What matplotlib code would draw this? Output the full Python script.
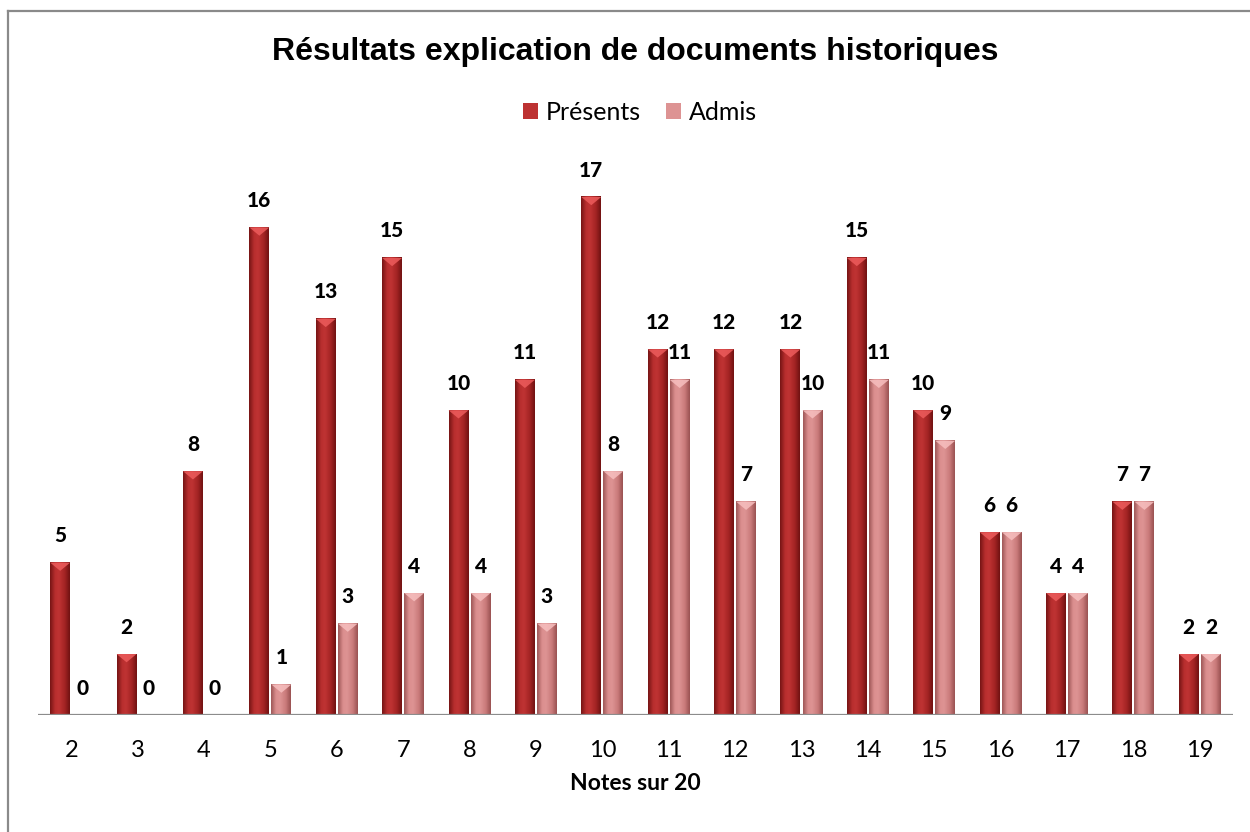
import matplotlib
matplotlib.use("Agg")
import matplotlib.pyplot as plt
import numpy as np
from matplotlib.colors import LinearSegmentedColormap
from matplotlib.patches import Patch, Polygon
from matplotlib.lines import Line2D

categories = ["2", "3", "4", "5", "6", "7", "8", "9", "10", "11", "12", "13", "14", "15", "16", "17", "18", "19"]
presents = [5, 2, 8, 16, 13, 15, 10, 11, 17, 12, 12, 12, 15, 10, 6, 4, 7, 2]
admis = [0, 0, 0, 1, 3, 4, 4, 3, 8, 11, 7, 10, 11, 9, 6, 4, 7, 2]

title = "Résultats explication de documents historiques"
xlabel = "Notes sur 20"
series_names = ["Présents", "Admis"]

W, H, DPI = 1250, 832, 100
fig = plt.figure(figsize=(W / DPI, H / DPI), dpi=DPI)
fig.patch.set_facecolor("white")

base_font = ["Lato", "DejaVu Sans"]

ax = fig.add_axes([38 / W, 1 - 715 / H, (1233 - 38) / W, (715 - 166.5) / H])
ax.set_xlim(-0.5, len(categories) - 0.5)
ax.set_ylim(0, 18)
for s in ax.spines.values():
    s.set_visible(False)
ax.set_yticks([])
ax.tick_params(axis="x", length=0, pad=18)
x = np.arange(len(categories))
ax.set_xticks(x)
ax.set_xticklabels(categories, fontsize=17, family=base_font)
ax.axhline(0, color="#8c8c8c", lw=1.6, zorder=5)

cmap_p = LinearSegmentedColormap.from_list("p", [
    (0.0, (0.46, 0.08, 0.08)), (0.25, (0.72, 0.18, 0.18)),
    (0.45, (0.75, 0.20, 0.20)), (0.75, (0.64, 0.14, 0.14)),
    (1.0, (0.44, 0.07, 0.07))])
cmap_a = LinearSegmentedColormap.from_list("a", [
    (0.0, (0.62, 0.34, 0.34)), (0.25, (0.86, 0.56, 0.56)),
    (0.45, (0.87, 0.58, 0.58)), (0.75, (0.79, 0.48, 0.48)),
    (1.0, (0.60, 0.32, 0.32))])
top_p = (0.93, 0.36, 0.36)
top_a = (0.97, 0.75, 0.75)

bw = 0.30
off = 0.166
grad = np.linspace(0, 1, 64).reshape(1, -1)
bevel = 0.27

def draw_bars(vals, offset, cmap, topc):
    for xi, v in zip(x, vals):
        if v <= 0:
            continue
        x0 = xi + offset - bw / 2
        x1 = xi + offset + bw / 2
        ax.imshow(grad, cmap=cmap, extent=(x0, x1, 0, v), aspect="auto",
                  origin="lower", zorder=3, interpolation="bicubic")
        ax.add_patch(Polygon([(x0, v), (x1, v), ((x0 + x1) / 2, v - bevel)],
                             closed=True, facecolor=topc, edgecolor="none",
                             alpha=0.85, zorder=4))
    for xi, v in zip(x, vals):
        ax.annotate(str(v), (xi + offset, v), xytext=(0, 19.4),
                    textcoords="offset points", ha="center", va="center",
                    fontsize=15, fontweight="black", family=base_font,
                    color="black", zorder=6)

draw_bars(presents, -off, cmap_p, top_p)
draw_bars(admis, off, cmap_a, top_a)
ax.set_xlim(-0.5, len(categories) - 0.5)
ax.set_ylim(0, 18)

fig.text(635 / W, 1 - 52 / H, title, ha="center", va="center",
         fontsize=23, fontweight="bold", family=["Liberation Sans", "DejaVu Sans"])
fig.text(635 / W, 1 - 784 / H, xlabel, ha="center", va="center",
         fontsize=16.5, fontweight="bold", family=base_font)

handles = [Patch(facecolor=cmap_p(0.4), edgecolor="none"),
           Patch(facecolor=cmap_a(0.4), edgecolor="none")]
fig.legend(handles, series_names, loc="center", bbox_to_anchor=(640 / W, 1 - 112 / H),
           ncol=2, frameon=False, handlelength=0.6, handleheight=0.6,
           handletextpad=0.3, columnspacing=1.0,
           prop={"family": base_font, "size": 18})

fig.add_artist(Line2D([7.5 / W, 1], [1 - 10.5 / H, 1 - 10.5 / H], color="#8a8a8a", lw=1.6,
                      transform=fig.transFigure))
fig.add_artist(Line2D([7.5 / W, 7.5 / W], [0, 1 - 10.5 / H], color="#8a8a8a", lw=1.6,
                      transform=fig.transFigure))

fig.savefig("out.png", dpi=DPI, facecolor="white")
